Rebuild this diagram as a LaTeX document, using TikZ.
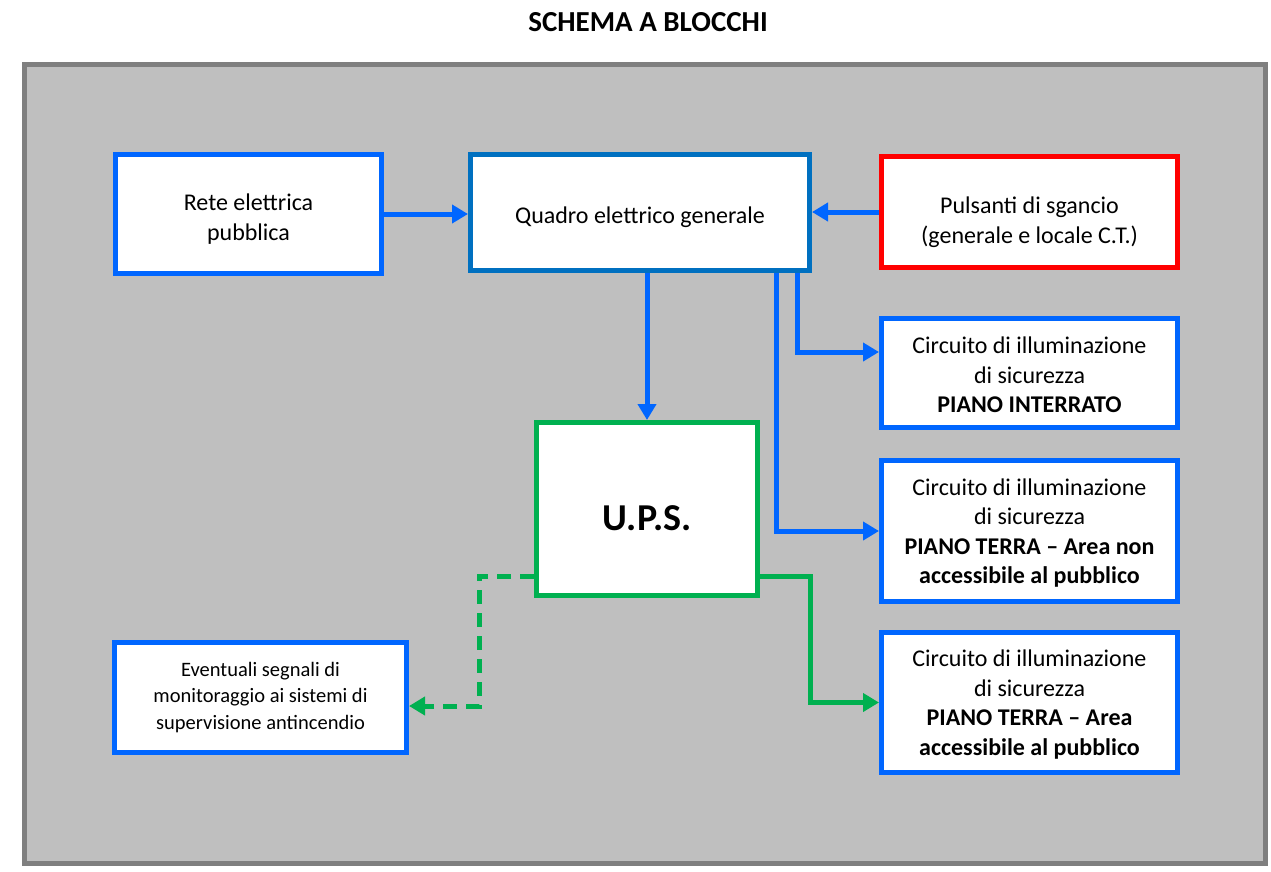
\documentclass[tikz,border=0pt]{standalone}
\usepackage{fontspec}
\setmainfont{Carlito}
\usetikzlibrary{arrows.meta}
\definecolor{bgray}{HTML}{BFBFBF}
\definecolor{dgray}{HTML}{7F7F7F}
\definecolor{eblue}{HTML}{0066FF}
\definecolor{qblue}{HTML}{0070C0}
\definecolor{upsgreen}{HTML}{00B050}
\definecolor{sred}{HTML}{FF0000}
\newcommand{\alza}[1]{\rule{0pt}{#1}}
\tikzset{
    blocco/.style={draw=eblue, line width=5pt, fill=white, inner sep=0pt, align=center,
        font=\fontsize{24}{29.5}\selectfont},
    freccia/.style={eblue, line width=5pt, ->},
}
\begin{document}
\begin{tikzpicture}[x=1pt, y=-1pt, >={Triangle[length=16pt,width=18pt]}]
    \useasboundingbox (0,0) rectangle (1271,871);
    \node[font=\fontsize{29}{34}\selectfont\bfseries] (titolo) at (648,22) {SCHEMA A BLOCCHI};
    \draw[draw=dgray, fill=bgray, line width=5pt] (24.5,64.5) rectangle (1265.5,863.5);
    % blocchi
    \node[blocco, minimum width=266pt, minimum height=119pt] (rete) at (248.5,214) {\alza{27pt}Rete elettrica\\pubblica};
    \node[blocco, draw=qblue, minimum width=339pt, minimum height=116pt, text height=27pt] (quadro) at (640,212.5) {Quadro elettrico generale};
    \node[blocco, draw=sred, minimum width=296pt, minimum height=111pt] (pulsanti) at (1029.5,212) {\alza{37pt}Pulsanti di sgancio\\(generale e locale C.T.)};
    \node[blocco, minimum width=296pt, minimum height=109pt] (interrato) at (1029.5,373) {\alza{21pt}Circuito di illuminazione\\di sicurezza\\\textbf{PIANO INTERRATO}};
    \node[blocco, minimum width=296pt, minimum height=141pt] (terranon) at (1029.5,531) {\alza{21pt}Circuito di illuminazione\\di sicurezza\\\textbf{PIANO TERRA – Area non}\\\textbf{accessibile al pubblico}};
    \node[blocco, minimum width=296pt, minimum height=140pt] (terra) at (1029.5,702.5) {\alza{21pt}Circuito di illuminazione\\di sicurezza\\\textbf{PIANO TERRA – Area}\\\textbf{accessibile al pubblico}};
    \node[blocco, draw=upsgreen, minimum width=221pt, minimum height=173pt, text height=42.5pt, text depth=0pt, font=\fontsize{38}{44}\selectfont\bfseries] (ups) at (647,509) {U.P.S.};
    \node[blocco, minimum width=292pt, minimum height=110pt, font=\fontsize{20.5}{26.5}\selectfont] (segnali) at (260.5,697.5) {Eventuali segnali di\\monitoraggio ai sistemi di\\supervisione antincendio};
    % collegamenti
    \draw[freccia] (rete.east) -- (rete.east -| quadro.west);
    \draw[freccia] (pulsanti.west) -- (pulsanti.west -| quadro.east);
    \draw[freccia] (quadro.south -| ups.north) -- (ups.north);
    \draw[freccia] ([xshift=157pt]quadro.south) |- ([yshift=21pt]interrato.west);
    \draw[freccia] ([xshift=136pt]quadro.south) |- (terranon.west);
    \draw[freccia, upsgreen] ([yshift=-67pt]ups.east) -- ++(50,0) |- (terra.west);
    \draw[freccia, upsgreen, dash pattern=on 14pt off 9pt] ([yshift=-67pt]ups.west) -- ++(-55,0) |- ([yshift=-8.5pt]segnali.east);
\end{tikzpicture}
\end{document}
